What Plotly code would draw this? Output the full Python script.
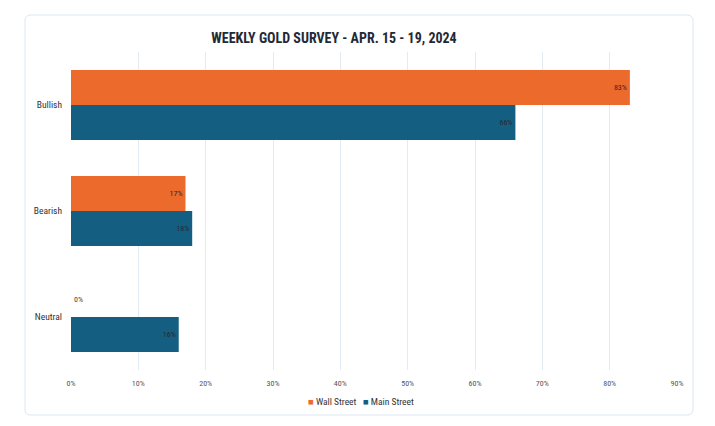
import plotly.graph_objects as go

categories = ["Bullish", "Bearish", "Neutral"]
wall_street = [83, 17, 0]
main_street = [66, 18, 16]
series_names = ["Wall Street", "Main Street"]
x_ticks = [0, 10, 20, 30, 40, 50, 60, 70, 80, 90]
x_tick_labels = [f"{v}%" for v in x_ticks]

ORANGE = "#EC6A2C"
BLUE = "#145E81"
FONT = "Liberation Sans Narrow, Roboto Condensed, Roboto, sans-serif"
OFF = 8  # page body margin

fig = go.Figure()
fig.add_trace(go.Bar(
    y=categories, x=main_street, name=series_names[1], orientation="h",
    marker=dict(color=BLUE, line=dict(width=0)),
    text=[f"{v}%" for v in main_street], textposition="inside",
    insidetextanchor="end", textfont=dict(size=8, color="#2a2a2a", family=FONT),
    showlegend=False, cliponaxis=False,
))
fig.add_trace(go.Bar(
    y=categories, x=wall_street, name=series_names[0], orientation="h",
    marker=dict(color=ORANGE, line=dict(width=0)),
    text=[f"{v}%" for v in wall_street],
    textposition=["inside" if v > 0 else "outside" for v in wall_street],
    insidetextanchor="end", textfont=dict(size=8, color="#2a2a2a", family=FONT),
    outsidetextfont=dict(size=8, color="#444", family=FONT),
    showlegend=False, cliponaxis=False,
))

W, H = 715 - OFF, 426 - OFF
L, R, T, B = 71 - OFF, 38, 52 - OFF, 56
pw, ph = W - L - R, H - T - B
def px(x):
    return (x - OFF - L) / pw
def py(y):
    return (H - B - (y - OFF)) / ph
x0, x1, y0, y1 = px(25), px(693), py(415), py(15)
rx, ry = 6 / pw, 6 / ph
path = (f"M {x0+rx},{y1} L {x1-rx},{y1} Q {x1},{y1} {x1},{y1-ry} "
        f"L {x1},{y0+ry} Q {x1},{y0} {x1-rx},{y0} L {x0+rx},{y0} "
        f"Q {x0},{y0} {x0},{y0+ry} L {x0},{y1-ry} Q {x0},{y1} {x0+rx},{y1} Z")
fig.add_shape(type="path", path=path, xref="paper", yref="paper",
              line=dict(color="#DCE7EE", width=1), fillcolor="white", layer="below")

# compact legend
legend_text = (f"<span style='color:{ORANGE}'>■</span> {series_names[0]}"
               f"&nbsp;&nbsp;&nbsp;<span style='color:{BLUE}'>■</span> {series_names[1]}")
fig.add_annotation(text=legend_text, x=px(361), y=py(401), xref="paper", yref="paper",
                   xanchor="center", yanchor="middle", showarrow=False,
                   font=dict(family=FONT, size=9.5, color="#333"))

fig.update_layout(
    width=W, height=H,
    margin=dict(l=L, r=R, t=T, b=B),
    paper_bgcolor="white", plot_bgcolor="rgba(0,0,0,0)",
    barmode="group", bargap=0.34, bargroupgap=0,
    title=dict(text="<b>WEEKLY GOLD SURVEY - APR. 15 - 19, 2024</b>",
               x=(334 - OFF) / W, xanchor="center", y=1 - (38 - OFF) / H, yanchor="middle",
               font=dict(family=FONT, size=14, color="#1f2a36")),
    xaxis=dict(range=[0, 90], tickvals=x_ticks, ticktext=x_tick_labels,
               showgrid=True, gridcolor="#E2EBF1", gridwidth=1, zeroline=False,
               tickfont=dict(family=FONT, size=8, color="#555"),
               showline=False, ticks="", ticklabelstandoff=7, fixedrange=True),
    yaxis=dict(categoryorder="array", categoryarray=categories[::-1],
               showgrid=False, tickfont=dict(family=FONT, size=9.5, color="#333"),
               ticks="", ticklen=0, ticklabelstandoff=8),
    showlegend=False,
)
fig.write_html("out.html")
